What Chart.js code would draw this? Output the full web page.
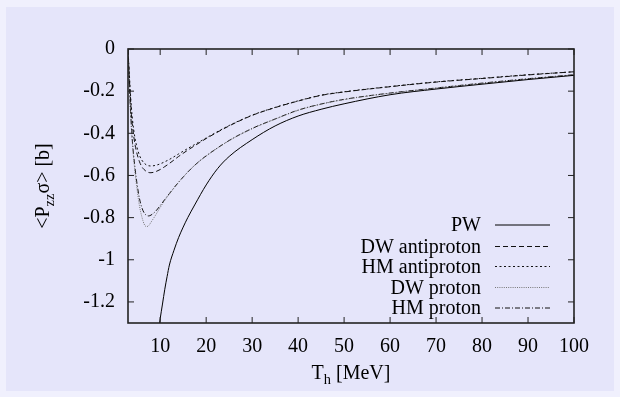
<!DOCTYPE html>
<html>
<head>
<meta charset="utf-8">
<script src="https://cdn.jsdelivr.net/npm/chart.js@4.4.0/dist/chart.umd.min.js"></script>
<style>
  html, body { margin: 0; padding: 0; background: #f0f0fd; }
</style>
</head>
<body>
<canvas id="myChart" width="620" height="397"></canvas>
<script>
// values
var xGrid = [3, 3.25, 3.5, 3.75, 4, 4.5, 5, 5.5, 6, 6.5, 7, 7.5, 8, 9, 10, 11, 12, 14, 16, 18, 20, 25, 30, 35, 40, 45, 50, 60, 70, 80, 90, 100];
var dwAnti = [0, -0.12, -0.22, -0.31, -0.37, -0.45, -0.50, -0.535, -0.558, -0.572, -0.581, -0.586, -0.587, -0.582, -0.572, -0.558, -0.543, -0.51, -0.48, -0.452, -0.425, -0.365, -0.315, -0.278, -0.247, -0.22, -0.204, -0.179, -0.157, -0.14, -0.123, -0.108];
var hmAnti = [0, -0.10, -0.20, -0.28, -0.34, -0.42, -0.47, -0.505, -0.527, -0.541, -0.55, -0.554, -0.555, -0.552, -0.545, -0.535, -0.524, -0.498, -0.472, -0.447, -0.422, -0.363, -0.314, -0.277, -0.246, -0.219, -0.203, -0.178, -0.156, -0.139, -0.122, -0.108];
var dwProton = [0, -0.15, -0.28, -0.38, -0.46, -0.58, -0.67, -0.745, -0.795, -0.83, -0.843, -0.838, -0.822, -0.788, -0.752, -0.718, -0.688, -0.633, -0.584, -0.542, -0.508, -0.435, -0.378, -0.333, -0.291, -0.262, -0.24, -0.21, -0.186, -0.163, -0.142, -0.123];
var hmProton = [0, -0.14, -0.27, -0.37, -0.45, -0.56, -0.645, -0.71, -0.752, -0.777, -0.789, -0.792, -0.788, -0.77, -0.743, -0.714, -0.686, -0.632, -0.584, -0.542, -0.507, -0.434, -0.377, -0.332, -0.29, -0.261, -0.239, -0.209, -0.185, -0.162, -0.141, -0.122];

var pwX = [9.7, 10, 10.5, 11, 11.5, 12, 13, 14, 15, 16, 17.5, 20, 22.5, 25, 30, 35, 40, 45, 50, 60, 70, 80, 90, 100];
var pwY = [-1.33, -1.28, -1.21, -1.14, -1.08, -1.025, -0.955, -0.895, -0.845, -0.8, -0.74, -0.645, -0.567, -0.51, -0.43, -0.365, -0.318, -0.286, -0.26, -0.217, -0.19, -0.167, -0.145, -0.125];

var xTicks = [10, 20, 30, 40, 50, 60, 70, 80, 90, 100];
var yTicks = [0, -0.2, -0.4, -0.6, -0.8, -1, -1.2];
var names = ['PW', 'DW antiproton', 'HM antiproton', 'DW proton', 'HM proton'];

function pts(xs, ys) {
    return xs.map(function (x, i) { return { x: x, y: ys[i] }; });
}

var styles = [
    { color: '#000', dash: [] },
    { color: '#111', dash: [5, 3] },
    { color: '#111', dash: [2, 2.5] },
    { color: '#777', dash: [1, 1.2] },
    { color: '#111', dash: [5, 2, 1, 2] }
];
var series = [pts(pwX, pwY), pts(xGrid, dwAnti), pts(xGrid, hmAnti), pts(xGrid, dwProton), pts(xGrid, hmProton)];

var serif = '"Liberation Serif", "DejaVu Serif", serif';
var fontSize = 20;

// draws text with subscripts: parts = [[text, isSub], ...]
function richText(ctx, parts, x, y, size) {
    var w = 0;
    parts.forEach(function (p) {
        ctx.font = (p[1] ? size * 0.72 : size) + 'px ' + serif;
        w += ctx.measureText(p[0]).width;
    });
    var cx = x - w / 2;
    parts.forEach(function (p) {
        ctx.font = (p[1] ? size * 0.72 : size) + 'px ' + serif;
        ctx.fillText(p[0], cx, y + (p[1] ? size * 0.3 : 0));
        cx += ctx.measureText(p[0]).width;
    });
}

var gnuplotLook = {
    id: 'gnuplotLook',
    beforeDraw: function (chart) {
        var ctx = chart.ctx;
        ctx.save();
        ctx.fillStyle = '#f0f0fd';
        ctx.fillRect(0, 0, chart.width, chart.height);
        ctx.fillStyle = '#e5e5fa';
        ctx.fillRect(6, 7, 608, 384);
        ctx.restore();
    },
    afterDraw: function (chart) {
        var ctx = chart.ctx;
        var a = chart.chartArea;
        var xs = chart.scales.x, ys = chart.scales.y;
        ctx.save();
        ctx.strokeStyle = '#222';
        ctx.lineWidth = 1.6;
        ctx.setLineDash([]);
        ctx.strokeRect(a.left, a.top, a.right - a.left, a.bottom - a.top);
        // inward ticks on all four sides
        ctx.lineWidth = 1;
        ctx.beginPath();
        xTicks.forEach(function (v) {
            var px = xs.getPixelForValue(v);
            ctx.moveTo(px, a.bottom); ctx.lineTo(px, a.bottom - 6);
            ctx.moveTo(px, a.top); ctx.lineTo(px, a.top + 6);
        });
        yTicks.forEach(function (v) {
            var py = ys.getPixelForValue(v);
            ctx.moveTo(a.left, py); ctx.lineTo(a.left + 6, py);
            ctx.moveTo(a.right, py); ctx.lineTo(a.right - 6, py);
        });
        ctx.stroke();

        // legend, text right aligned with the line sample after it
        var rows = [225, 246.5, 266.5, 287.5, 308];
        ctx.fillStyle = '#000';
        ctx.font = fontSize + 'px ' + serif;
        ctx.textAlign = 'right';
        ctx.textBaseline = 'middle';
        names.forEach(function (n, i) {
            ctx.fillText(n, 481, rows[i] + 1);
            ctx.strokeStyle = styles[i].color;
            ctx.setLineDash(styles[i].dash);
            ctx.lineWidth = 1;
            ctx.beginPath();
            ctx.moveTo(495, rows[i]);
            ctx.lineTo(550, rows[i]);
            ctx.stroke();
        });
        ctx.setLineDash([]);

        // axis titles
        ctx.textAlign = 'left';
        ctx.textBaseline = 'middle';
        richText(ctx, [['T', false], ['h', true], [' [MeV]', false]], 351, 374, fontSize);
        ctx.translate(44, 186);
        ctx.rotate(-Math.PI / 2);
        richText(ctx, [['<P', false], ['zz', true], ['\u03c3> [b]', false]], 0, 0, fontSize);
        ctx.restore();
    }
};

var ctx = document.getElementById('myChart').getContext('2d');
var myChart = new Chart(ctx, {
    type: 'scatter',
    data: {
        datasets: series.map(function (d, i) {
            return {
                label: names[i],
                data: d,
                showLine: true,
                borderColor: styles[i].color,
                borderDash: styles[i].dash,
                borderWidth: 1,
                pointRadius: 0,
                cubicInterpolationMode: 'monotone'
            };
        })
    },
    options: {
        responsive: false,
        animation: false,
        layout: { padding: { left: 48, right: 46, top: 49, bottom: 34 } },
        plugins: { legend: { display: false }, tooltip: { enabled: false } },
        scales: {
            x: {
                type: 'linear',
                min: 3,
                max: 100,
                afterBuildTicks: function (s) { s.ticks = xTicks.map(function (v) { return { value: v }; }); },
                afterFit: function (s) { s.height = 40; },
                grid: { display: false },
                border: { display: false },
                ticks: { color: '#000', font: { family: serif, size: fontSize }, padding: 4, maxRotation: 0 }
            },
            y: {
                type: 'linear',
                min: -1.3,
                max: 0,
                afterBuildTicks: function (s) { s.ticks = yTicks.map(function (v) { return { value: v }; }); },
                afterFit: function (s) { s.width = 80; },
                grid: { display: false },
                border: { display: false },
                ticks: {
                    color: '#000',
                    font: { family: serif, size: fontSize },
                    padding: 5,
                    callback: function (v) { return String(parseFloat(Number(v).toFixed(1))); }
                }
            }
        }
    },
    plugins: [gnuplotLook]
});
</script>
</body>
</html>
